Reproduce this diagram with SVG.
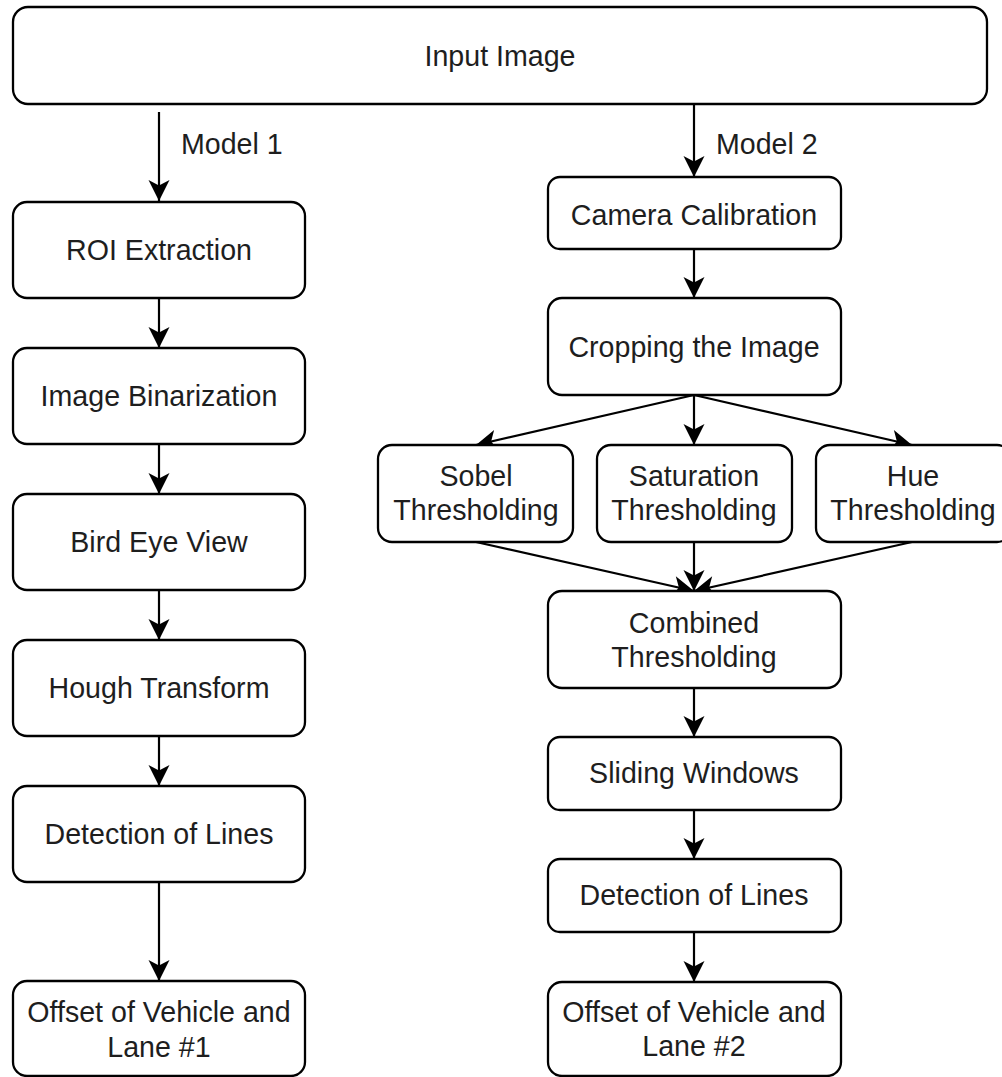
<svg xmlns="http://www.w3.org/2000/svg" width="1002" height="1077" viewBox="0 0 1002 1077">
<style>
.box{fill:#fff;stroke:#000;stroke-width:2.3}
.lbl{font-family:"Liberation Sans",Arial,sans-serif;font-size:28.6px;fill:#1e1e1e;text-anchor:middle}
.side{font-family:"Liberation Sans",Arial,sans-serif;font-size:28.6px;fill:#1e1e1e}
.edge{fill:none;stroke:#000;stroke-width:2.2;marker-end:url(#ah)}
</style>
<defs>
<marker id="ah" markerUnits="userSpaceOnUse" markerWidth="26" markerHeight="26" viewBox="-23 -13 26 26" refX="0" refY="0" orient="auto">
<path d="M0,0 L-21,-10.5 L-15.5,0 L-21,10.5 Z" fill="#000"/>
</marker>
</defs>
<rect width="1002" height="1077" fill="#fff"/>
<g id="connectors">
<line class="edge" x1="159" y1="112" x2="159" y2="201"/>
<line class="edge" x1="694" y1="105" x2="694" y2="177"/>
<line class="edge" x1="159" y1="298" x2="159" y2="348"/>
<line class="edge" x1="159" y1="444" x2="159" y2="494"/>
<line class="edge" x1="159" y1="590" x2="159" y2="640"/>
<line class="edge" x1="159" y1="736" x2="159" y2="786"/>
<line class="edge" x1="159" y1="882" x2="159" y2="981"/>
<line class="edge" x1="694" y1="249" x2="694" y2="298"/>
<line class="edge" x1="694" y1="395" x2="476" y2="445"/>
<line class="edge" x1="694" y1="395" x2="694" y2="445"/>
<line class="edge" x1="694" y1="395" x2="912" y2="445"/>
<line class="edge" x1="476" y1="542" x2="694" y2="591"/>
<line class="edge" x1="694" y1="542" x2="694" y2="591"/>
<line class="edge" x1="912" y1="542" x2="694" y2="591"/>
<line class="edge" x1="694" y1="688" x2="694" y2="737"/>
<line class="edge" x1="694" y1="810" x2="694" y2="859"/>
<line class="edge" x1="694" y1="932" x2="694" y2="982"/>
<text class="side" x="181" y="154">Model 1</text>
<text class="side" x="716" y="154">Model 2</text>
</g>
<g id="input"><rect class="box" x="13" y="7" width="974" height="97" rx="15"/><text class="lbl" x="500" y="66">Input Image</text></g>
<g id="roi"><rect class="box" x="13" y="202" width="292" height="96" rx="14"/><text class="lbl" x="159" y="260">ROI Extraction</text></g>
<g id="binarization"><rect class="box" x="13" y="348" width="292" height="96" rx="14"/><text class="lbl" x="159" y="406">Image Binarization</text></g>
<g id="birdeye"><rect class="box" x="13" y="494" width="292" height="96" rx="14"/><text class="lbl" x="159" y="552">Bird Eye View</text></g>
<g id="hough"><rect class="box" x="13" y="640" width="292" height="96" rx="14"/><text class="lbl" x="159" y="698">Hough Transform</text></g>
<g id="detect1"><rect class="box" x="13" y="786" width="292" height="96" rx="14"/><text class="lbl" x="159" y="844">Detection of Lines</text></g>
<g id="offset1"><rect class="box" x="13" y="981" width="292" height="95" rx="14"/><text class="lbl" x="159" y="1022">Offset of Vehicle and</text><text class="lbl" x="159" y="1057">Lane #1</text></g>
<g id="camera"><rect class="box" x="548" y="177" width="293" height="72" rx="12"/><text class="lbl" x="694" y="225">Camera Calibration</text></g>
<g id="cropping"><rect class="box" x="548" y="298" width="293" height="97" rx="14"/><text class="lbl" x="694" y="357">Cropping the Image</text></g>
<g id="sobel"><rect class="box" x="378" y="445" width="195" height="97" rx="14"/><text class="lbl" x="476" y="486">Sobel</text><text class="lbl" x="476" y="520">Thresholding</text></g>
<g id="saturation"><rect class="box" x="597" y="445" width="195" height="97" rx="14"/><text class="lbl" x="694" y="486">Saturation</text><text class="lbl" x="694" y="520">Thresholding</text></g>
<g id="hue"><rect class="box" x="816" y="445" width="195" height="97" rx="14"/><text class="lbl" x="913" y="486">Hue</text><text class="lbl" x="913" y="520">Thresholding</text></g>
<g id="combined"><rect class="box" x="548" y="591" width="293" height="97" rx="14"/><text class="lbl" x="694" y="633">Combined</text><text class="lbl" x="694" y="667">Thresholding</text></g>
<g id="sliding"><rect class="box" x="548" y="737" width="293" height="73" rx="12"/><text class="lbl" x="694" y="783">Sliding Windows</text></g>
<g id="detect2"><rect class="box" x="548" y="859" width="293" height="73" rx="12"/><text class="lbl" x="694" y="905">Detection of Lines</text></g>
<g id="offset2"><rect class="box" x="548" y="982" width="293" height="94" rx="14"/><text class="lbl" x="694" y="1022">Offset of Vehicle and</text><text class="lbl" x="694" y="1056">Lane #2</text></g>
</svg>
